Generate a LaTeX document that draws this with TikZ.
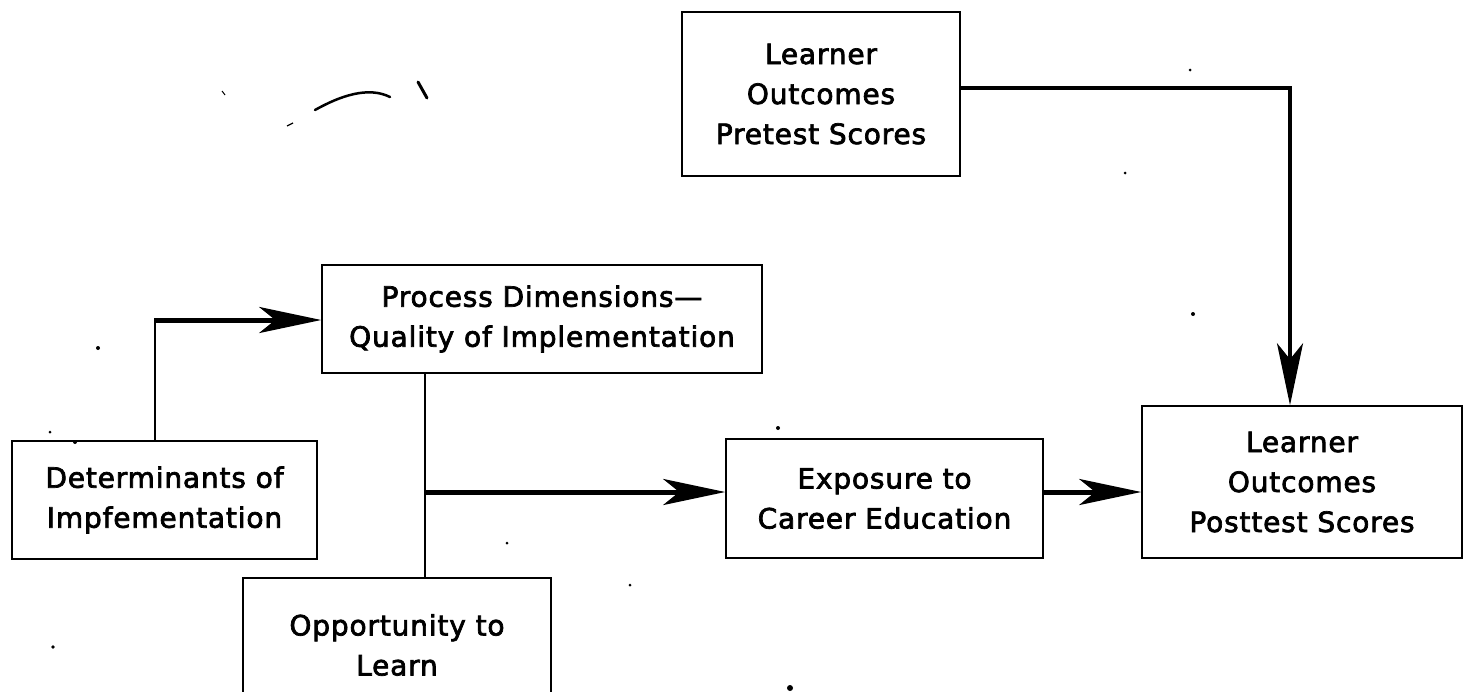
\documentclass[tikz,border=0pt]{standalone}
\usepackage{fontspec}
\setmainfont{DejaVu Sans}[LetterSpace=3, FakeBold=2.5]
\usetikzlibrary{arrows.meta}

\begin{document}
\begin{tikzpicture}[x=1pt,y=-1pt,
  box/.style={draw, line width=1.5pt, inner sep=0pt, align=center,
              font=\fontsize{28}{40}\selectfont},
  thinlink/.style={line width=2pt},
  boldlink/.style={line width=5pt},
  headtip/.style={-{Stealth[length=62pt,width=26pt,inset=16pt]}},
  speck/.style={fill=black, draw=none},
]
\useasboundingbox (0,0) rectangle (1463,691);
\fill[white] (0,0) rectangle (1463,691);

\begin{scope}
\clip (0,0) rectangle (1463,691);

% boxes of the model
\node[box, minimum width=278pt, minimum height=164pt] (pre)  at (821,94)
  {Learner\\Outcomes\\Pretest Scores};
\node[box, minimum width=440pt, minimum height=108pt] (proc) at (542,319)
  {Process Dimensions---\\Quality of Implementation};
\node[box, minimum width=305pt, minimum height=118pt] (det)  at (164.5,500)
  {Determinants of\\Impfementation};
\node[box, minimum width=317pt, minimum height=119pt] (expo) at (884.5,498.5)
  {Exposure to\\Career Education};
\node[box, minimum width=320pt, minimum height=152pt] (post) at (1302,482)
  {Learner\\Outcomes\\Posttest Scores};
\node[box, minimum width=308pt, minimum height=134pt] (opp)  at (397,645)
  {Opportunity to\\Learn};

% routing points
\coordinate (bend1) at (155,320);
\coordinate (junc)  at (425,492);
\coordinate (bend2) at (1290,88);

% determinants -> process dimensions
\draw[thinlink] (bend1 |- det.north) -- (bend1);
\draw[boldlink, headtip] ([xshift=-1pt]bend1) -- (bend1 -| proc.west);

% process dimensions -- opportunity to learn, branching to exposure
\draw[thinlink] (junc |- proc.south) -- (junc |- opp.north);
\draw[boldlink, headtip] (junc) -- (junc -| expo.west);

% exposure -> posttest
\draw[boldlink, headtip] (junc -| expo.east) -- (junc -| post.west);

% pretest -> posttest
\draw[line width=4pt, headtip] (bend2 -| pre.east) -- (bend2) -- (bend2 |- post.north);

% stray marks on the sheet
\draw[line width=2.5pt, line cap=round] (315,110) .. controls (340,96) and (368,86) .. (390,97);
\draw[line width=3pt, line cap=round] (418,82) -- (427,98);
\draw[line width=1pt] (222,91) -- (225,95);
\draw[line width=1.2pt] (287,126) -- (293,123);
\fill[speck] (98,348) circle (2pt);
\fill[speck] (53,647) circle (1.8pt);
\fill[speck] (50,432) circle (1.5pt);
\fill[speck] (75,442) circle (2pt);
\fill[speck] (778,428) circle (2pt);
\fill[speck] (507,543) circle (1.5pt);
\fill[speck] (630,585) circle (1.5pt);
\fill[speck] (790,688) circle (3pt);
\fill[speck] (1193,314) circle (2pt);
\fill[speck] (1190,70) circle (1.5pt);
\fill[speck] (1125,173) circle (1.5pt);
\end{scope}
\end{tikzpicture}
\end{document}
